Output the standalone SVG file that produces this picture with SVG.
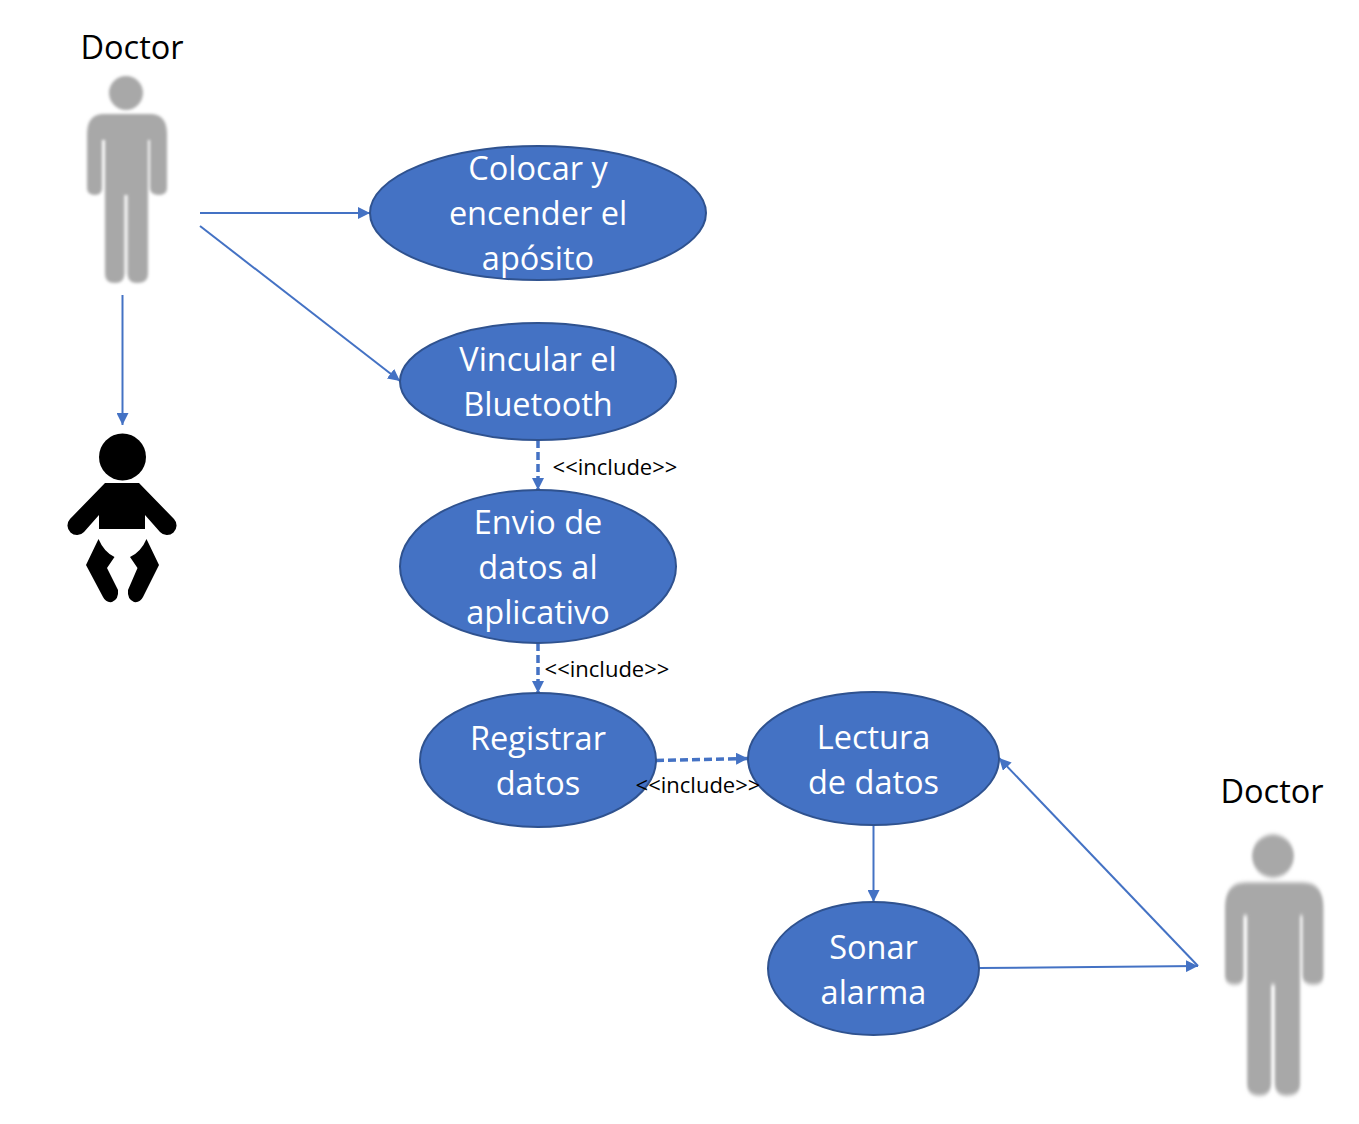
<svg xmlns="http://www.w3.org/2000/svg" width="1359" height="1124" viewBox="0 0 1359 1124">
<style>
text{font-family:"Open Sans","Noto Sans","Liberation Sans",sans-serif;text-anchor:middle}
.uc ellipse{fill:#4472c4;stroke:#2f528f;stroke-width:2}
.uc text{fill:#fff;font-size:32.500px}
.actor text{fill:#000;font-size:32.500px}
.inc{fill:#000;font-size:22px}
.c{fill:none;stroke:#4472c4;stroke-width:2}
.d{stroke-width:3.500;stroke-dasharray:8 4}
</style>
<defs>
<marker id="a" markerUnits="userSpaceOnUse" markerWidth="14" markerHeight="12" refX="12" refY="6" orient="auto"><path d="M0 0L12 6L0 12Z" fill="#4472c4"/></marker>
<filter id="b" x="-10%" y="-10%" width="120%" height="120%"><feGaussianBlur stdDeviation="1.500"/></filter>
<g id="p" fill="#a8a8a8" filter="url(#b)">
<circle cx="126" cy="93" r="17"/>
<path d="M104 114H150Q167 114 167 134V188Q167 195 159 195Q150 195 150 188V140H148V274Q148 283 137 283Q128 283 127.500 274V195H124.500V274Q124 283 115 283Q105 283 105 274V140H102V188Q102 195 95 195Q87 195 87 188V134Q87 114 104 114Z"/>
</g>
</defs>
<g id="doctor1" class="actor"><use href="#p"/><text x="132" y="59">Doctor</text></g>
<g id="doctor2" class="actor"><use href="#p" transform="translate(1273 856) scale(1.23 1.26) translate(-126 -93)"/><text x="1272" y="803">Doctor</text></g>
<g id="baby" fill="#000">
<circle cx="122.500" cy="457" r="23.500"/>
<path d="M105 483L70 519A9.500 9.500 0 0 0 84 532L99 515V529H145V515L160 532A9.500 9.500 0 0 0 174 519L139 483Z"/>
<path d="M98.500 539Q104 552 114.500 557L107 568L118 590Q119 599 112 602Q106 603 103 597L86 565Z"/>
<path d="M146.500 539Q141 552 130 557L137.500 568L128 590Q127 599 134 602Q140 603 143 597L159 565Z"/>
</g>
<g id="connectors">
<path class="c" marker-end="url(#a)" d="M200 213H370"/>
<path class="c" marker-end="url(#a)" d="M200 226L400 381"/>
<path class="c" marker-end="url(#a)" d="M122.500 295V425"/>
<path class="c d" marker-end="url(#a)" d="M538 440V490"/>
<path class="c d" marker-end="url(#a)" d="M538 643V693"/>
<path class="c d" marker-end="url(#a)" d="M656 760.500L748 758.500"/>
<path class="c" marker-end="url(#a)" d="M873.500 825V902"/>
<path class="c" marker-end="url(#a)" d="M979 968L1198 966"/>
<path class="c" marker-end="url(#a)" d="M1198 966L999 758"/>
</g>
<g id="uc1" class="uc"><ellipse cx="538" cy="213" rx="168" ry="67"/><text x="538" y="180">Colocar y</text><text x="538" y="225">encender el</text><text x="538" y="270">apósito</text></g>
<g id="uc2" class="uc"><ellipse cx="538" cy="381.500" rx="138" ry="58.500"/><text x="538" y="371">Vincular el</text><text x="538" y="416">Bluetooth</text></g>
<g id="uc3" class="uc"><ellipse cx="538" cy="566.500" rx="138" ry="76.500"/><text x="538" y="534">Envio de</text><text x="538" y="579">datos al</text><text x="538" y="624">aplicativo</text></g>
<g id="uc4" class="uc"><ellipse cx="538" cy="760" rx="118" ry="67"/><text x="538" y="750">Registrar</text><text x="538" y="795">datos</text></g>
<g id="uc5" class="uc"><ellipse cx="873.500" cy="758.500" rx="125.500" ry="66.500"/><text x="873.500" y="749">Lectura</text><text x="873.500" y="794">de datos</text></g>
<g id="uc6" class="uc"><ellipse cx="873.500" cy="968.500" rx="105.500" ry="66.500"/><text x="873.500" y="959">Sonar</text><text x="873.500" y="1004">alarma</text></g>
<g id="labels">
<text class="inc" x="615" y="475">&lt;&lt;include&gt;&gt;</text>
<text class="inc" x="607" y="677">&lt;&lt;include&gt;&gt;</text>
<text class="inc" x="698" y="793">&lt;&lt;include&gt;&gt;</text>
</g>
</svg>
